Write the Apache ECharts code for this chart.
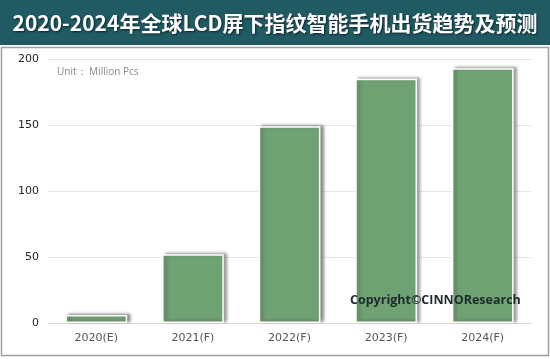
<!DOCTYPE html>
<html><head><meta charset="utf-8">
<script src="https://cdn.jsdelivr.net/npm/echarts@6/dist/echarts.min.js"></script>
<style>html,body{margin:0;padding:0;background:#fff}#c{width:550px;height:359px}</style>
</head><body><div id="c"></div>
<script>
const titleText = '2020-2024年全球LCD屏下指纹智能手机出货趋势及预测';
const categories = ['2020(E)', '2021(F)', '2022(F)', '2023(F)', '2024(F)'];
const shipments = [6, 52, 149, 185, 193];
const yTicks = [0, 50, 100, 150, 200];
const unitText = 'Unit： Million Pcs';
const copyrightText = 'Copyright©CINNOResearch';

const chart = echarts.init(document.getElementById('c'), null, {renderer: 'canvas'});
chart.setOption({
  animation: false,
  backgroundColor: '#fff',
  title: {
    text: titleText, left: 'center', top: 8,
    textStyle: {color: '#fff', fontSize: 21, fontWeight: 'bold', fontFamily: '"Noto Sans CJK SC", sans-serif',
      textShadowColor: 'rgba(0,0,0,0.6)', textShadowBlur: 2, textShadowOffsetX: 1, textShadowOffsetY: 1}
  },
  graphic: [
    {type: 'rect', z: -10, shape: {x: 0, y: 0, width: 550, height: 45}, style: {fill: '#205a62'}},
    {type: 'rect', z: -10, shape: {x: 1.5, y: 47.5, width: 547, height: 308}, style: {fill: 'none', stroke: '#a0a0a0', lineWidth: 1.5}},
    {type: 'text', left: 57, top: 67, style: {text: unitText, fill: '#8a8a8a', fontSize: 10, fontFamily: '"Open Sans", sans-serif'}},
    {type: 'text', left: 350, top: 294, z: 100, style: {text: copyrightText, fill: '#1e2b2c', fontSize: 12.5, fontWeight: 'bold', fontFamily: '"Open Sans", sans-serif'}}
  ],
  grid: {left: 48, right: 19, top: 59, bottom: 36},
  xAxis: {
    type: 'category', data: categories,
    axisLine: {show: true, lineStyle: {color: '#d9d9d9'}}, axisTick: {show: false},
    axisLabel: {color: '#555', fontSize: 11, margin: 10, fontFamily: 'DejaVu Sans, sans-serif'}
  },
  yAxis: {
    type: 'value', min: yTicks[0], max: yTicks[yTicks.length - 1], interval: 50,
    axisLine: {show: false}, axisTick: {show: false},
    splitLine: {lineStyle: {color: '#e6e6e6'}},
    axisLabel: {color: '#222', fontSize: 11, margin: 9, fontFamily: 'DejaVu Sans, sans-serif'}
  },
  series: [{
    type: 'bar', data: shipments, barWidth: '64%',
    itemStyle: {color: '#6fa273', borderColor: '#fff', borderWidth: 1.5,
      shadowColor: 'rgba(90,90,90,0.7)', shadowBlur: 3, shadowOffsetX: 3, shadowOffsetY: -1}
  }]
});
</script></body></html>
